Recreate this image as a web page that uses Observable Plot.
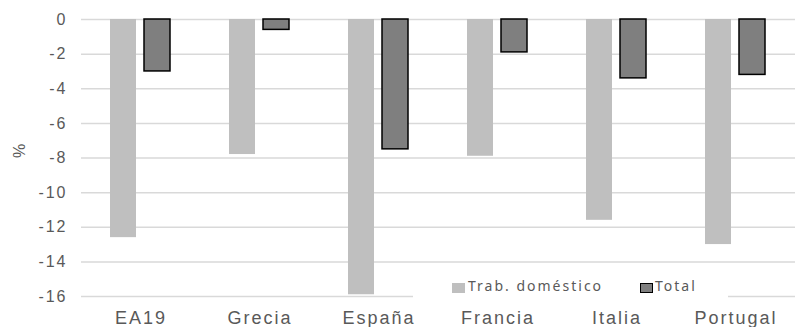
<!DOCTYPE html>
<html>
<head>
<meta charset="utf-8">
<script src="https://cdn.jsdelivr.net/npm/d3@7"></script>
<script src="https://cdn.jsdelivr.net/npm/@observablehq/plot@0.6"></script>
<style>
  body { margin: 0; background: #fff; }
  #wrap { position: relative; width: 797px; height: 327px; overflow: hidden; }
  g[aria-label="y-axis tick label"] text { letter-spacing: 2px; }
  g[aria-label="fx-axis tick label"] text { letter-spacing: 2px; }
  #legend { position: absolute; left: 413px; top: 273px; width: 315px; height: 26px; background: #fff;
    font-family: "Noto Sans", sans-serif; font-size: 14px; color: #595959; letter-spacing: 2px; }
  #legend .sw { position: absolute; width: 13px; height: 10px; top: 10px; box-sizing: border-box; }
  #legend .lb { position: absolute; top: 3px; line-height: 20px; white-space: nowrap; }
</style>
</head>
<body>
<div id="wrap"></div>
<script>
const categories = ["EA19", "Grecia", "España", "Francia", "Italia", "Portugal"];
const seriesNames = ["Trab. doméstico", "Total"];
const trabDomestico = [-12.6, -7.8, -15.9, -7.9, -11.6, -13.0];
const total = [-3.0, -0.6, -7.5, -1.9, -3.4, -3.2];
const yTicks = [0, -2, -4, -6, -8, -10, -12, -14, -16];
const yLabel = "%";
const colors = ["#BFBFBF", "#7F7F7F"];

const rowsTrab = categories.map((c, i) => ({cat: c, serie: seriesNames[0], value: trabDomestico[i]}));
const rowsTotal = categories.map((c, i) => ({cat: c, serie: seriesNames[1], value: total[i]}));

const chart = Plot.plot({
  width: 797,
  height: 327,
  marginTop: 19,
  marginBottom: 31,
  marginLeft: 78,
  marginRight: 0,
  style: {fontFamily: "'Liberation Sans', Arial, sans-serif", color: "#595959", background: "#fff"},
  fx: {domain: categories, padding: 0},
  x: {domain: seriesNames, paddingInner: 0.23, paddingOuter: 0.826, axis: null},
  y: {domain: [-16, 0]},
  color: {domain: seriesNames, range: colors},
  marks: [
    Plot.ruleY(yTicks, {stroke: "#D9D9D9", strokeWidth: 1.5}),
    Plot.barY(rowsTrab, {fx: "cat", x: "serie", y: "value", fill: "serie", inset: 0}),
    Plot.barY(rowsTotal, {fx: "cat", x: "serie", y: "value", fill: "serie", stroke: "#000", strokeWidth: 1.5, inset: 0}),
    Plot.axisY({ticks: yTicks, tickSize: 0, tickPadding: 14, fontSize: 16, fill: "#595959",
      label: null, tickFormat: d => String(d)}),
    Plot.text([yLabel], {frameAnchor: "left", rotate: -90, dx: -62, fontSize: 16, fill: "#595959", facetAnchor: "left"}),
    Plot.axisFx({anchor: "bottom", tickSize: 0, tickPadding: 15, fontSize: 18, fill: "#595959", label: null})
  ]
});
const wrap = document.getElementById("wrap");
wrap.appendChild(chart);

const legend = document.createElement("div");
legend.id = "legend";
const items = [
  {name: seriesNames[0], color: colors[0], border: "none", sw: 39, lb: 55},
  {name: seriesNames[1], color: colors[1], border: "1.5px solid #000", sw: 227, lb: 242}
];
items.forEach(it => {
  const s = document.createElement("div");
  s.className = "sw"; s.style.left = it.sw + "px"; s.style.background = it.color; s.style.border = it.border;
  legend.appendChild(s);
  const l = document.createElement("div");
  l.className = "lb"; l.style.left = it.lb + "px"; l.textContent = it.name;
  legend.appendChild(l);
});
wrap.appendChild(legend);
</script>
</body>
</html>
